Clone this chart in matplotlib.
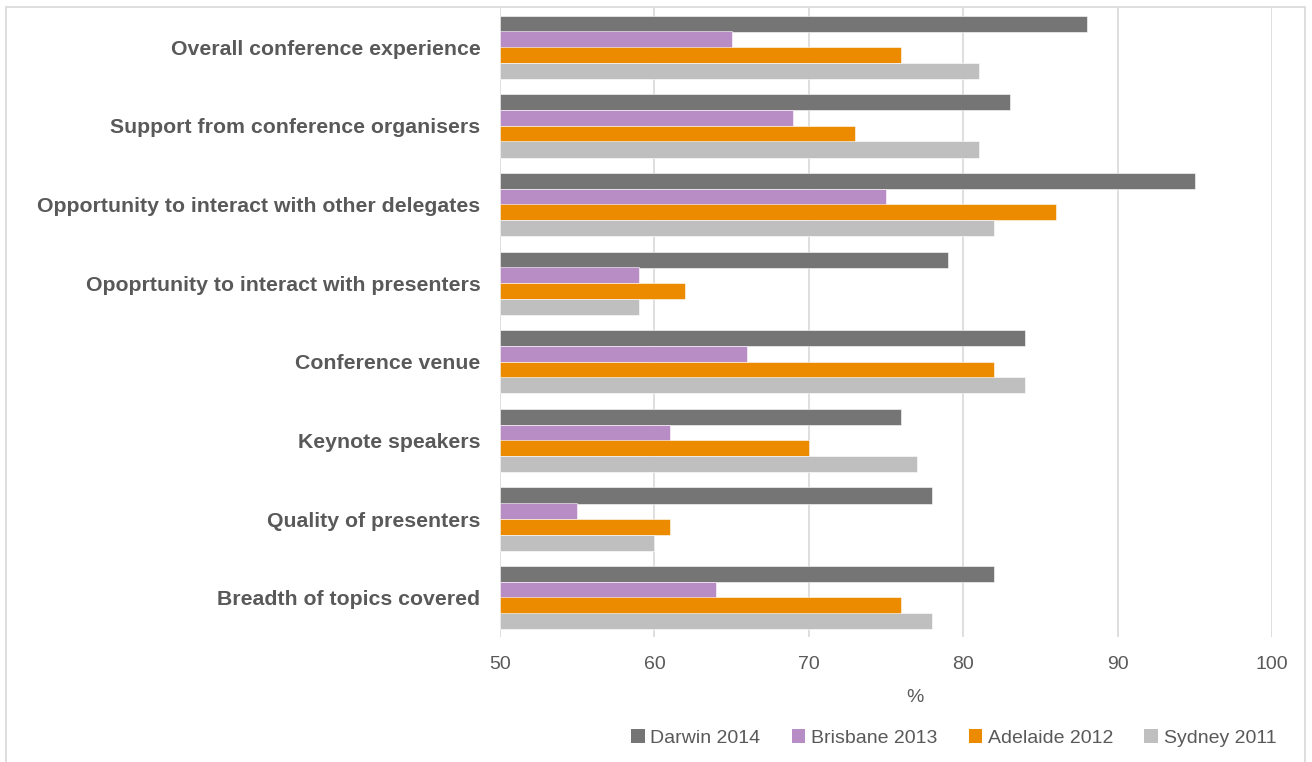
import matplotlib.pyplot as plt
from matplotlib import font_manager
from matplotlib.patches import Rectangle, Patch

categories = [
    "Overall conference experience",
    "Support from conference organisers",
    "Opportunity to interact with other delegates",
    "Opoprtunity to interact with presenters",
    "Conference venue",
    "Keynote speakers",
    "Quality of presenters",
    "Breadth of topics covered",
]
darwin_2014 = [88, 83, 95, 79, 84, 76, 78, 82]
brisbane_2013 = [65, 69, 75, 59, 66, 61, 55, 64]
adelaide_2012 = [76, 73, 86, 62, 82, 70, 61, 76]
sydney_2011 = [81, 81, 82, 59, 84, 77, 60, 78]

series_names = ["Darwin 2014", "Brisbane 2013", "Adelaide 2012", "Sydney 2011"]
series_vals = [darwin_2014, brisbane_2013, adelaide_2012, sydney_2011]
colors = ["#757575", "#b88cc4", "#ed8b00", "#bfbfbf"]

xticks = [50, 60, 70, 80, 90, 100]

plt.rcParams['font.family'] = ['Liberation Sans', 'DejaVu Sans']
text_col = "#595959"

# narrow font for axis numbers / legend if one is around
names = {f.name for f in font_manager.fontManager.ttflist}
if 'Liberation Sans Narrow' in names:
    small_font = {'family': 'Liberation Sans Narrow', 'size': 15.5}
else:
    small_font = {'family': 'Liberation Sans', 'size': 14}

fig = plt.figure(figsize=(13.12, 7.62), dpi=100)
ax = fig.add_axes([500 / 1312, 1 - 637 / 762, 772 / 1312, 629 / 762])

# outer chart frame
fig.patches.append(Rectangle((6 / 1312, -0.05), 1299 / 1312, 1 - 7 / 762 + 0.05,
                             transform=fig.transFigure, fill=False,
                             edgecolor="#d9d9d9", linewidth=1.2))

bar_h = 0.205
offsets = [-0.3, -0.1, 0.1, 0.3]
ypos = list(range(len(categories)))
for vals, off, col in zip(series_vals, offsets, colors):
    ax.barh([y + off for y in ypos], [v - 50 for v in vals], left=50, height=bar_h,
            color=col, edgecolor="white", linewidth=0.4, zorder=3)

ax.set_xlim(50, 100)
ax.set_ylim(len(categories) - 0.5, -0.5)
ax.set_xticks(xticks)
ax.set_xticklabels([str(t) for t in xticks], color=text_col, **small_font)
ax.set_yticks(ypos)
ax.set_yticklabels(categories, fontsize=15.3, fontweight='bold', color=text_col)
ax.tick_params(axis='x', length=0, pad=14)
ax.tick_params(axis='y', length=0, pad=14)
ax.grid(axis='x', color="#d9d9d9", linewidth=1.2, zorder=0)
for s in ax.spines.values():
    s.set_visible(False)

fig.text(915 / 1312, 1 - 697 / 762, "%", ha='center', va='center',
         color=text_col, **small_font)

handles = [Patch(facecolor=c, edgecolor='none') for c in colors]
fig.legend(handles, series_names, loc='center right',
           bbox_to_anchor=(1294 / 1312, 1 - 738 / 762), ncol=4, frameon=False,
           handlelength=0.7, handleheight=0.7, handletextpad=0.3, columnspacing=1.6,
           prop=small_font, labelcolor=text_col)

fig.savefig("out.png", dpi=100)
